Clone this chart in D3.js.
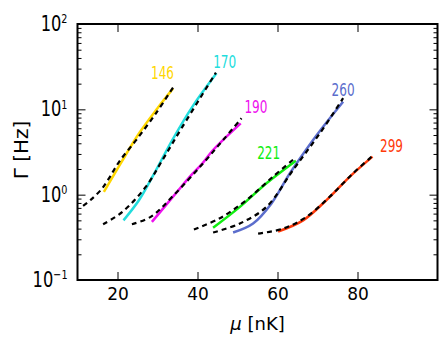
<!DOCTYPE html>
<html>
<head>
<meta charset="utf-8">
<script src="https://cdn.jsdelivr.net/npm/d3@7"></script>
<style>
  body { margin: 0; background: #fff; }
  svg { font-family: "DejaVu Sans", sans-serif; }
</style>
</head>
<body>
<div id="chart"></div>
<script>
const densities = ["146", "170", "190", "221", "260", "299"];
const colors = ["#ffd700", "#22dddd", "#ee11ee", "#11ee11", "#5b6dcc", "#ff3a0a"];

const mu146 = [16.6, 20.8, 25.4, 30.0, 33.9];
const gamma146 = [1.08, 2.33, 5.24, 10.3, 17.6];
const muFit146 = [11.4, 13.3, 15.8, 17.9, 20.4, 25.0, 29.6, 33.9];
const gammaFit146 = [0.74, 0.87, 1.13, 1.56, 2.43, 4.57, 8.98, 18.1];

const mu170 = [21.5, 25.4, 29.2, 33.7, 38.7, 44.75];
const gamma170 = [0.50, 0.865, 1.78, 4.37, 10.7, 26.4];
const muFit170 = [16.4, 21.25, 27.1, 31.25, 36.25, 44.6];
const gammaFit170 = [0.45, 0.63, 1.24, 2.55, 6.26, 26.9];

const mu190 = [28.6, 34.6, 38.1, 41.25, 43.9, 50.8];
const gamma190 = [0.48, 1.04, 1.63, 2.33, 3.34, 6.86];
const muFit190 = [23.6, 28.3, 34.1, 41.4, 46.4, 51.0];
const gammaFit190 = [0.45, 0.55, 0.99, 2.33, 4.37, 7.85];

const mu221 = [43.9, 50.6, 57.25, 64.6];
const gamma221 = [0.41, 0.72, 1.36, 2.50];
const muFit221 = [39.1, 45.6, 52.25, 58.9, 64.6];
const gammaFit221 = [0.39, 0.53, 0.865, 1.63, 2.74];

const mu260 = [48.9, 53.9, 58.5, 63.1, 68.9, 71.4, 76.4];
const gamma260 = [0.36, 0.46, 0.79, 1.78, 4.37, 6.26, 12.3];
const muFit260 = [43.9, 50.6, 57.25, 63.9, 70.6, 76.4];
const gammaFit260 = [0.36, 0.46, 0.72, 1.95, 5.24, 13.5];

const mu299 = [60.15, 66.4, 72.25, 78.1, 83.75];
const gamma299 = [0.37, 0.50, 0.865, 1.63, 2.79];
const muFit299 = [55.15, 61.4, 67.25, 73.1, 78.9, 83.75];
const gammaFit299 = [0.35, 0.40, 0.55, 0.95, 1.78, 2.84];

// where each density label sits, in data units
const labelMu = [31.25, 46.8, 54.6, 57.8, 76.4, 88.5];
const labelGamma = [26.4, 36.1, 10.6, 3.05, 16.9, 3.72];

const xTicks = [20, 40, 60, 80];
const yTicks = [0.1, 1, 10, 100];

const curves = [
  [mu146, gamma146, muFit146, gammaFit146],
  [mu170, gamma170, muFit170, gammaFit170],
  [mu190, gamma190, muFit190, gammaFit190],
  [mu221, gamma221, muFit221, gammaFit221],
  [mu260, gamma260, muFit260, gammaFit260],
  [mu299, gamma299, muFit299, gammaFit299],
];

const margin = { top: 24, right: 6.5, bottom: 62, left: 77.5 };
const width = 444 - margin.left - margin.right;
const height = 342 - margin.top - margin.bottom;

const svg = d3.select("#chart")
  .append("svg")
  .attr("width", 444)
  .attr("height", 342);

const chart = svg.append("g")
  .attr("transform", `translate(${margin.left}, ${margin.top})`);

const x = d3.scaleLinear().domain([10, 100]).range([0, width]);
const y = d3.scaleLog().domain([0.1, 100]).range([height, 0]);

const minorTicks = yTicks.slice(0, -1)
  .flatMap(v => d3.range(2, 10).map(k => v * k));

// ticks point inward on all four sides
const addAxis = (axis, transform) => {
  const g = chart.append("g").attr("transform", transform).call(axis);
  g.select(".domain").remove();
  g.selectAll(".tick line").attr("stroke", "#000");
  return g;
};

const bottom = addAxis(d3.axisBottom(x).tickValues(xTicks).tickSize(-8).tickPadding(8), `translate(0, ${height})`);
bottom.selectAll("text")
  .style("font-size", "17px")
  .style("font-family", "DejaVu Sans")
  .attr("fill", "#000");
addAxis(d3.axisTop(x).tickValues(xTicks).tickSize(-8).tickFormat(""), "translate(0, 0)");
addAxis(d3.axisLeft(y).tickValues(yTicks).tickSize(-8).tickFormat(""), "translate(0, 0)");
addAxis(d3.axisLeft(y).tickValues(minorTicks).tickSize(-4).tickFormat(""), "translate(0, 0)");
addAxis(d3.axisRight(y).tickValues(yTicks).tickSize(-8).tickFormat(""), `translate(${width}, 0)`);
addAxis(d3.axisRight(y).tickValues(minorTicks).tickSize(-4).tickFormat(""), `translate(${width}, 0)`);

// 10^n labels, narrow like the original
yTicks.forEach(v => {
  const t = chart.append("text")
    .attr("text-anchor", "end")
    .attr("transform", `translate(-10, ${y(v) + 7}) scale(0.74, 1)`)
    .style("font-size", "22px");
  t.append("tspan").text("10");
  t.append("tspan")
    .attr("dy", "-0.58em")
    .style("font-size", "13px")
    .text(String(Math.round(Math.log10(v))).replace("-", "\u2212"));
});

const line = d3.line()
  .x(d => x(d[0]))
  .y(d => y(d[1]))
  .curve(d3.curveCatmullRom.alpha(0.5));

curves.forEach(([mu, gamma, muFit, gammaFit], i) => {
  chart.append("path")
    .attr("d", line(d3.zip(mu, gamma)))
    .attr("fill", "none")
    .attr("stroke", colors[i])
    .attr("stroke-width", 2.5);
  chart.append("path")
    .attr("d", line(d3.zip(muFit, gammaFit)))
    .attr("fill", "none")
    .attr("stroke", "#000")
    .attr("stroke-width", 2.2)
    .attr("stroke-dasharray", "5,4");
});

chart.selectAll(".label")
  .data(densities)
  .enter()
  .append("text")
  .attr("class", "label")
  .attr("x", (d, i) => x(labelMu[i]))
  .attr("y", (d, i) => y(labelGamma[i]))
  .attr("dy", "0.36em")
  .attr("text-anchor", "middle")
  .attr("textLength", 23)
  .attr("lengthAdjust", "spacingAndGlyphs")
  .attr("fill", (d, i) => colors[i])
  .style("font-size", "17px")
  .text(d => d);

chart.append("rect")
  .attr("width", width)
  .attr("height", height)
  .attr("fill", "none")
  .attr("stroke", "#000")
  .attr("stroke-width", 2);

svg.append("text")
  .attr("x", margin.left + width / 2)
  .attr("y", 330)
  .attr("text-anchor", "middle")
  .style("font-size", "18px")
  .call(t => t.append("tspan").style("font-style", "italic").text("\u03bc"))
  .call(t => t.append("tspan").text(" [nK]"));

svg.append("text")
  .attr("transform", "translate(28, 150) rotate(-90)")
  .attr("text-anchor", "middle")
  .style("font-size", "20px")
  .text("\u0393 [Hz]");
</script>
</body>
</html>
